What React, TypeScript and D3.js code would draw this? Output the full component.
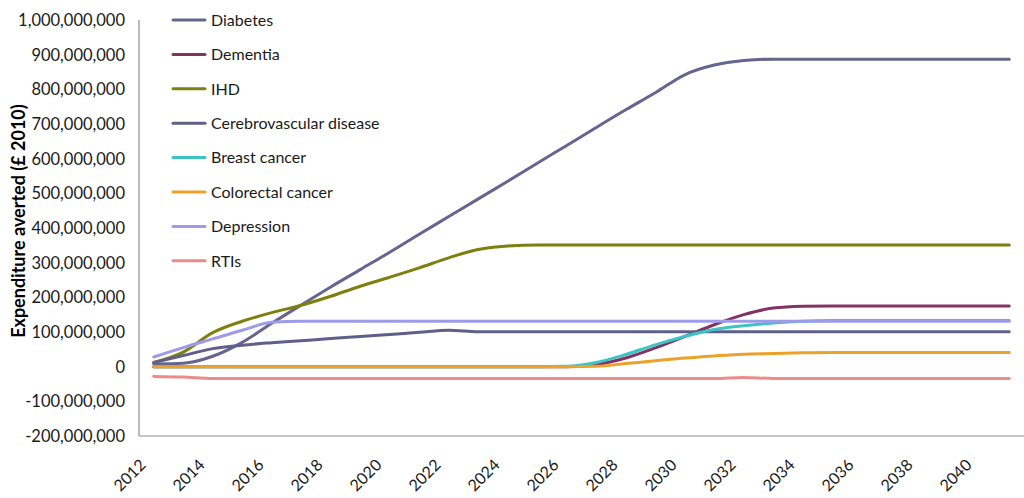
import React from "react";
import * as d3 from "d3";

const years: number[] = d3.range(2012, 2042);
const tickYears: number[] = d3.range(2012, 2041, 2);
const yTicks: number[] = d3.range(-200000000, 1000000001, 100000000);

const M = 1000000;
const diabetes = [8, 10, 30, 70, 125, 178, 230, 280, 330, 382, 433, 484, 535, 587, 638, 690, 741, 790, 842, 870, 883, 887, 887, 887, 887, 887, 887, 887, 887, 887];
const dementia = [0, 0, 0, 0, 0, 0, 0, 0, 0, 0, 0, 0, 0, 0, 0, 6, 25, 54, 87, 121, 150, 169, 174, 175, 175, 175, 175, 175, 175, 175];
const ihd = [12, 42, 98, 131, 156, 177, 203, 232, 258, 285, 314, 338, 348, 351, 351, 351, 351, 351, 351, 351, 351, 351, 351, 351, 351, 351, 351, 351, 351, 351];
const cerebro = [12, 32, 52, 62, 69, 75, 81, 87, 93, 99, 105, 101, 101, 101, 101, 101, 101, 101, 101, 101, 101, 101, 101, 101, 101, 101, 101, 101, 101, 101];
const breast = [0, 0, 0, 0, 0, 0, 0, 0, 0, 0, 0, 0, 0, 0, 1, 12, 35, 63, 87, 107, 118, 126, 131, 133, 133, 133, 133, 133, 133, 133];
const colorectal = [0, 0, 0, 0, 0, 0, 0, 0, 0, 0, 0, 0, 0, 0, 0, 1, 9, 17, 25, 31, 36, 38, 40, 41, 41, 41, 41, 41, 41, 41];
const depression = [28, 55, 80, 105, 128, 131, 131, 131, 131, 131, 131, 131, 131, 131, 131, 131, 131, 131, 131, 131, 131, 131, 131, 131, 131, 131, 131, 131, 131, 131];
const rtis = [-28, -30, -34, -34, -34, -34, -34, -34, -34, -34, -34, -34, -34, -34, -34, -34, -34, -34, -34, -34, -31, -34, -34, -34, -34, -34, -34, -34, -34, -34];

const seriesNames = ["Diabetes", "Dementia", "IHD", "Cerebrovascular disease", "Breast cancer", "Colorectal cancer", "Depression", "RTIs"];
const seriesValues = [diabetes, dementia, ihd, cerebro, breast, colorectal, depression, rtis];
const seriesColors = ["#65658f", "#843262", "#7f7f0e", "#5f5f8a", "#3cc3c3", "#eba12a", "#9d9bea", "#ee8a8a"];

const W = 1024;
const H = 498;
const FONT = "Lato, 'Open Sans', sans-serif";

export default function App() {
  const x = d3.scaleBand<number>().domain(years).range([139, 1024]);
  const y = d3.scaleLinear().domain([-200000000, 1000000000]).range([436, 20]);
  const cx = (yr: number) => (x(yr) as number) + x.bandwidth() / 2;
  const line = d3
    .line<number>()
    .x((_, i) => cx(years[i]))
    .y((v) => y(v * M))
    .curve(d3.curveMonotoneX);
  const fmt = (v: number) => d3.format(",")(v).replace("\u2212", "-");

  return (
    <svg width={W} height={H} style={{ position: "absolute", left: 0, top: 0, background: "#fff" }} fontFamily={FONT}>
      <rect x={0} y={0} width={W} height={H} fill="#fff" />
      {/* axes */}
      <line x1={139} y1={20} x2={139} y2={436} stroke="#8c8c8c" strokeWidth={1.2} />
      <line x1={139} y1={436} x2={1024} y2={436} stroke="#8c8c8c" strokeWidth={1.2} />
      {yTicks.map((t) => (
        <text key={t} x={125} y={y(t)} dy="0.36em" textAnchor="end" fontSize={16.5} fill="#1a1a1a">
          {fmt(t)}
        </text>
      ))}
      {tickYears.map((yr) => {
        const px = cx(yr) - 7;
        const py = 466;
        return (
          <text key={yr} x={px} y={py} textAnchor="end" fontSize={16} fill="#1a1a1a" transform={`rotate(-45 ${px} ${py})`}>
            {yr}
          </text>
        );
      })}
      <text
        x={0}
        y={0}
        transform={`translate(25 ${y(420000000)}) rotate(-90)`}
        textAnchor="middle"
        fontSize={18}
        fontWeight="bold"
        fill="#000"
      >
        Expenditure averted (£ 2010)
      </text>
      {/* series */}
      {seriesValues.map((vals, i) => (
        <path key={seriesNames[i]} d={line(vals) || ""} fill="none" stroke={seriesColors[i]} strokeWidth={3} strokeLinejoin="round" strokeLinecap="round" />
      ))}
      {/* legend */}
      {seriesNames.map((n, i) => {
        const ly = 20 + i * 34.4;
        return (
          <g key={n}>
            <line x1={173} x2={205} y1={ly} y2={ly} stroke={seriesColors[i]} strokeWidth={3} strokeLinecap="round" />
            <text x={211} y={ly} dy="0.36em" fontSize={16} fill="#1a1a1a">
              {n}
            </text>
          </g>
        );
      })}
    </svg>
  );
}
